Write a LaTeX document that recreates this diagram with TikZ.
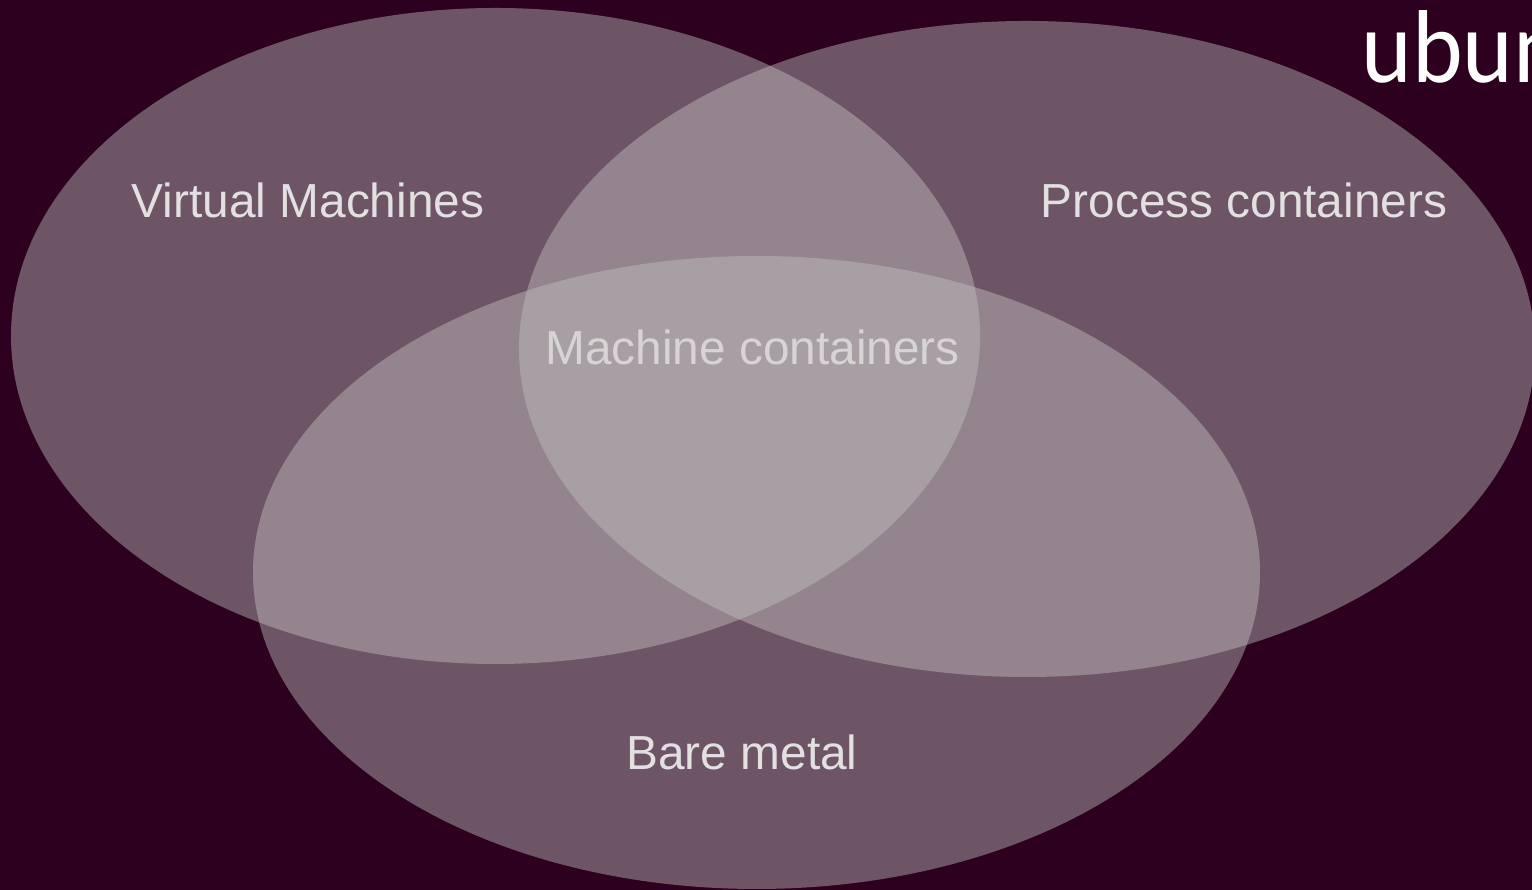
\documentclass[tikz,border=0pt]{standalone}
\usepackage{fontspec}
\setmainfont{Liberation Sans}
\newfontfamily\logofont[FakeStretch=0.93]{Carlito}
\usetikzlibrary{shapes.geometric}
\definecolor{aubergine}{HTML}{2C001E}
\definecolor{vennfill}{HTML}{C4C2C3}
\definecolor{venntext}{HTML}{E2E0E1}
\definecolor{venntextmid}{HTML}{D6D4D5}

\begin{document}
\begin{tikzpicture}
  [venn/.style={
    ellipse,
    fill=vennfill,
    fill opacity=0.44,
    draw=none,
    inner sep=0pt,
    outer sep=0pt
    },
   vennlabel/.style={
    text=venntext,
    font=\fontsize{13.6}{16}\selectfont,
    inner sep=0pt
    }
  ]
  \useasboundingbox (0,0) rectangle (15.32,8.90);
  \clip (0,0) rectangle (15.32,8.90);
  \fill[aubergine] (0,0) rectangle (15.32,8.90);

  \node [venn, minimum width=9.69cm, minimum height=6.56cm] (virtual) at (4.955,5.54) {};
  \node [venn, minimum width=10.16cm, minimum height=6.56cm] (process) at (10.27,5.41) {};
  \node [venn, minimum width=10.07cm, minimum height=6.33cm] (bare) at (7.565,3.175) {};

  \node [vennlabel] (virtuallabel) at (3.08,6.90) {Virtual Machines};
  \node [vennlabel] (processlabel) at (12.44,6.90) {Process containers};
  \node [vennlabel, text=venntextmid] (machinelabel) at (7.525,5.43) {Machine containers};
  \node [vennlabel] (barelabel) at (7.42,1.38) {Bare metal};

  \node [anchor=base west, inner sep=0pt, text=white, font=\logofont\fontsize{29.5}{32}\selectfont] (logo) at (13.61,8.07) {ubun};
\end{tikzpicture}
\end{document}
